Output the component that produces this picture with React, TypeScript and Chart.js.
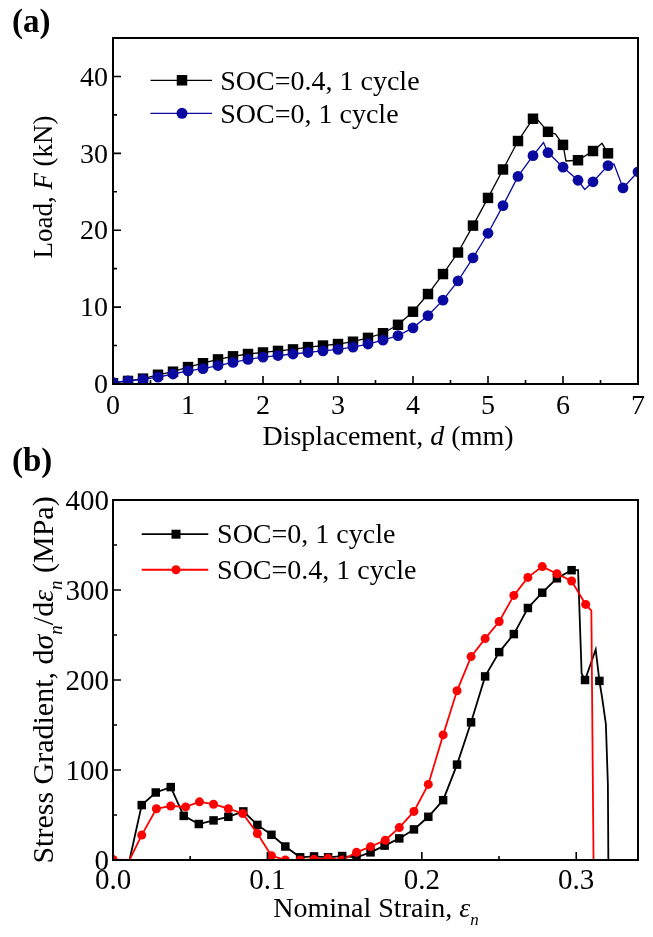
import React, { useEffect, useRef } from 'react';
import { Chart, registerables } from 'chart.js';

Chart.register(...registerables);

const FONT = "'Liberation Serif', 'Times New Roman', serif";

// ---------------- Panel (a) data ----------------
const A_X_MAJOR = [0, 1, 2, 3, 4, 5, 6, 7];
const A_X_MINOR = [0.5, 1.5, 2.5, 3.5, 4.5, 5.5, 6.5];
const A_Y_MAJOR = [0, 10, 20, 30, 40];
const A_Y_MINOR = [5, 15, 25, 35];
const A_X_LABELS = ['0', '1', '2', '3', '4', '5', '6', '7'];
const A_Y_LABELS = ['0', '10', '20', '30', '40'];

// SOC=0.4, 1 cycle (black squares)
const A_SOC04_X = [0, 0.2, 0.4, 0.6, 0.8, 1.0, 1.2, 1.4, 1.6, 1.8, 2.0, 2.2, 2.4, 2.6, 2.8, 3.0, 3.2, 3.4, 3.6, 3.8, 4.0, 4.2, 4.4, 4.6, 4.8, 5.0, 5.2, 5.4, 5.6, 5.8, 6.0, 6.2, 6.4, 6.6];
const A_SOC04_Y = [0.1, 0.4, 0.7, 1.2, 1.6, 2.2, 2.7, 3.2, 3.6, 3.9, 4.1, 4.3, 4.5, 4.8, 5.0, 5.2, 5.5, 6.0, 6.6, 7.7, 9.4, 11.7, 14.3, 17.1, 20.6, 24.2, 27.9, 31.6, 34.5, 32.8, 31.1, 29.1, 30.3, 30.0];
// extra line-only detail points of the same curve
const A_SOC04_LINE_X = [5.66, 5.9, 6.04, 6.52];
const A_SOC04_LINE_Y = [34.4, 32.5, 29.0, 31.3];

// SOC=0, 1 cycle (blue circles)
const A_SOC0_X = [0, 0.2, 0.4, 0.6, 0.8, 1.0, 1.2, 1.4, 1.6, 1.8, 2.0, 2.2, 2.4, 2.6, 2.8, 3.0, 3.2, 3.4, 3.6, 3.8, 4.0, 4.2, 4.4, 4.6, 4.8, 5.0, 5.2, 5.4, 5.6, 5.8, 6.0, 6.2, 6.4, 6.6, 6.8, 7.0];
const A_SOC0_Y = [0.2, 0.4, 0.6, 0.9, 1.3, 1.7, 2.0, 2.4, 2.8, 3.2, 3.5, 3.7, 3.9, 4.1, 4.3, 4.5, 4.8, 5.2, 5.7, 6.3, 7.3, 8.9, 10.9, 13.4, 16.4, 19.6, 23.2, 27.0, 29.7, 30.1, 28.2, 26.5, 26.3, 28.4, 25.5, 27.6];
const A_SOC0_LINE_X = [5.74, 6.29, 6.68];
const A_SOC0_LINE_Y = [31.4, 25.3, 28.6];

// ---------------- Panel (b) data ----------------
const B_X_MAJOR = [0, 0.1, 0.2, 0.3];
const B_X_MINOR = [0.05, 0.15, 0.25];
const B_Y_MAJOR = [0, 100, 200, 300, 400];
const B_Y_MINOR = [50, 150, 250, 350];
const B_X_LABELS = ['0.0', '0.1', '0.2', '0.3'];
const B_Y_LABELS = ['0', '100', '200', '300', '400'];

// SOC=0, 1 cycle (black squares)
const B_SOC0_X = [0.0186, 0.0277, 0.0374, 0.0458, 0.0556, 0.0651, 0.0747, 0.0844, 0.0935, 0.1026, 0.1116, 0.1212, 0.1302, 0.1393, 0.1484, 0.1577, 0.1668, 0.1759, 0.1854, 0.1949, 0.2042, 0.2138, 0.2228, 0.2319, 0.241, 0.2501, 0.2596, 0.2687, 0.278, 0.2875, 0.297, 0.3057, 0.315];
const B_SOC0_Y = [61, 75, 81, 49, 40, 44, 48, 54, 39, 28, 15, 3, 4, 3, 4.4, 3, 8.5, 16, 24, 34, 48, 66.5, 106, 153, 204, 231, 251, 280, 297, 313, 322, 200, 199];
const B_SOC0_LINE_X = [0, 0.0107, 0.3012, 0.3035, 0.3126, 0.3168, 0.3192, 0.3205, 0.3208];
const B_SOC0_LINE_Y = [0, 0, 322, 207, 234, 180, 151, 84, 0];

// SOC=0.4, 1 cycle (red circles)
const B_SOC04_X = [0, 0.0186, 0.0281, 0.0374, 0.047, 0.056, 0.0651, 0.0747, 0.084, 0.0935, 0.1026, 0.1116, 0.1212, 0.1302, 0.1393, 0.1484, 0.1577, 0.1668, 0.1763, 0.1854, 0.1949, 0.2042, 0.2138, 0.2228, 0.2319, 0.241, 0.2501, 0.2596, 0.2687, 0.278, 0.2875, 0.297, 0.3061];
const B_SOC04_Y = [0.5, 27.7, 57, 60, 59, 64.6, 62, 57, 51.7, 29.5, 4.8, 0, 0, 0.7, 2, 0, 8.5, 14.8, 22, 36, 54, 84, 139, 188, 226, 246, 265, 294, 314, 326, 318, 310, 284];
const B_SOC04_LINE_X = [0.0107, 0.3098, 0.3112];
const B_SOC04_LINE_Y = [0, 277, 0];

// ---------------- helpers ----------------
type Pt = { x: number; y: number };
const pts = (xs: number[], ys: number[]): Pt[] => xs.map((x, i) => ({ x, y: ys[i] }));
const curve = (xs: number[], ys: number[], ex: number[], ey: number[]): Pt[] =>
  pts(xs, ys).concat(pts(ex, ey)).sort((a, b) => a.x - b.x);

type Seg = { t: string; italic?: boolean; sub?: boolean };

function segFont(s: Seg, size: number) {
  const sz = s.sub ? Math.round(size * 0.62) : size;
  return `${s.italic ? 'italic ' : ''}${sz}px ${FONT}`;
}
function drawSegs(ctx: CanvasRenderingContext2D, segs: Seg[], cx: number, baseline: number, size: number) {
  let total = 0;
  for (const s of segs) { ctx.font = segFont(s, size); total += ctx.measureText(s.t).width; }
  let x = cx - total / 2;
  ctx.textAlign = 'left';
  ctx.textBaseline = 'alphabetic';
  for (const s of segs) {
    ctx.font = segFont(s, size);
    ctx.fillText(s.t, x, baseline + (s.sub ? size * 0.3 : 0));
    x += ctx.measureText(s.t).width;
  }
}

type LegendItem = { label: string; color: string; style: 'rect' | 'circle'; size: number; lineWidth: number };

function drawMarker(ctx: CanvasRenderingContext2D, style: 'rect' | 'circle', x: number, y: number, size: number, color: string) {
  ctx.fillStyle = color;
  ctx.beginPath();
  if (style === 'rect') {
    ctx.rect(x - size / 2, y - size / 2, size, size);
  } else {
    ctx.arc(x, y, size / 2, 0, Math.PI * 2);
  }
  ctx.fill();
}

interface Decor {
  xMajor: number[]; xMinor: number[]; yMajor: number[]; yMinor: number[];
  xLabels: string[]; yLabels: string[];
  tickFont: number;
  xLabelBaseline: number; // offset below plot bottom
  yLabelRight: number;
  xTitle: Seg[]; xTitleX: number; xTitleBaseline: number; xTitleFont: number;
  yTitle: Seg[]; yTitleX: number; yTitleY: number; yTitleFont: number;
  panel: string; panelX: number; panelY: number; panelFont: number;
  legend: LegendItem[]; legendRows: number[]; legendLine: [number, number]; legendMarker: number; legendText: number; legendFont: number;
}

function decorPlugin(d: Decor) {
  return {
    id: 'decor',
    afterDraw(chart: any) {
      const ctx: CanvasRenderingContext2D = chart.ctx;
      const { left, right, top, bottom } = chart.chartArea;
      const xs = chart.scales.x;
      const ys = chart.scales.y;
      ctx.save();
      ctx.strokeStyle = '#000';
      ctx.fillStyle = '#000';
      // ticks (inward, bottom + left)
      ctx.lineWidth = 1.6;
      ctx.beginPath();
      for (const v of d.xMajor) { const p = xs.getPixelForValue(v); ctx.moveTo(p, bottom); ctx.lineTo(p, bottom - 8); }
      for (const v of d.xMinor) { const p = xs.getPixelForValue(v); ctx.moveTo(p, bottom); ctx.lineTo(p, bottom - 4); }
      for (const v of d.yMajor) { const p = ys.getPixelForValue(v); ctx.moveTo(left, p); ctx.lineTo(left + 8, p); }
      for (const v of d.yMinor) { const p = ys.getPixelForValue(v); ctx.moveTo(left, p); ctx.lineTo(left + 4, p); }
      ctx.stroke();
      // frame
      ctx.lineWidth = 2;
      ctx.strokeRect(left, top, right - left, bottom - top);
      // tick labels
      ctx.font = `${d.tickFont}px ${FONT}`;
      ctx.textBaseline = 'alphabetic';
      ctx.textAlign = 'center';
      d.xMajor.forEach((v, i) => ctx.fillText(d.xLabels[i], xs.getPixelForValue(v), bottom + d.xLabelBaseline));
      ctx.textAlign = 'right';
      d.yMajor.forEach((v, i) => ctx.fillText(d.yLabels[i], d.yLabelRight, ys.getPixelForValue(v) + d.tickFont * 0.33));
      // x title
      drawSegs(ctx, d.xTitle, d.xTitleX, bottom + d.xTitleBaseline, d.xTitleFont);
      // y title (rotated)
      ctx.save();
      ctx.translate(d.yTitleX, d.yTitleY);
      ctx.rotate(-Math.PI / 2);
      drawSegs(ctx, d.yTitle, 0, 0, d.yTitleFont);
      ctx.restore();
      // panel label
      ctx.font = `bold ${d.panelFont}px ${FONT}`;
      ctx.textAlign = 'left';
      ctx.fillText(d.panel, d.panelX, d.panelY);
      // legend
      d.legend.forEach((it, i) => {
        const y = ys.getPixelForValue(d.legendRows[i]);
        const x1 = xs.getPixelForValue(d.legendLine[0]);
        const x2 = xs.getPixelForValue(d.legendLine[1]);
        ctx.strokeStyle = it.color;
        ctx.lineWidth = it.lineWidth;
        ctx.beginPath(); ctx.moveTo(x1, y); ctx.lineTo(x2, y); ctx.stroke();
        drawMarker(ctx, it.style, xs.getPixelForValue(d.legendMarker), y, it.size, it.color);
        ctx.fillStyle = '#000';
        ctx.font = `${d.legendFont}px ${FONT}`;
        ctx.textAlign = 'left';
        ctx.fillText(it.label, xs.getPixelForValue(d.legendText), y + d.legendFont * 0.33);
      });
      ctx.restore();
    },
  };
}

function baseScales(xMin: number, xMax: number, yMin: number, yMax: number, yWidth: number, xHeight: number) {
  return {
    x: {
      type: 'linear', min: xMin, max: xMax,
      ticks: { display: false }, grid: { display: false, drawTicks: false }, border: { display: false },
      afterFit: (s: any) => { s.height = xHeight; },
    },
    y: {
      type: 'linear', min: yMin, max: yMax,
      ticks: { display: false }, grid: { display: false, drawTicks: false }, border: { display: false },
      afterFit: (s: any) => { s.width = yWidth; },
    },
  };
}

const BLACK = '#000000';
const BLUE = '#0a0aa0';
const RED = '#ff0000';

function configA(): any {
  return {
    type: 'line',
    data: {
      datasets: [
        { data: pts(A_SOC0_X, A_SOC0_Y), showLine: false, pointStyle: 'circle', pointRadius: 5.4, pointBorderWidth: 0, pointBackgroundColor: BLUE, borderColor: BLUE, order: 0, clip: 0 },
        { data: curve(A_SOC0_X, A_SOC0_Y, A_SOC0_LINE_X, A_SOC0_LINE_Y), borderColor: BLUE, borderWidth: 1.3, pointRadius: 0, tension: 0, order: 1, clip: 0 },
        { data: pts(A_SOC04_X, A_SOC04_Y), showLine: false, pointStyle: 'rect', pointRadius: 7.4, pointBorderWidth: 0, pointBackgroundColor: BLACK, borderColor: BLACK, order: 2, clip: 0 },
        { data: curve(A_SOC04_X, A_SOC04_Y, A_SOC04_LINE_X, A_SOC04_LINE_Y), borderColor: BLACK, borderWidth: 1.3, pointRadius: 0, tension: 0, order: 3, clip: 0 },
      ],
    },
    options: {
      animation: false, responsive: false, devicePixelRatio: 1,
      layout: { padding: { top: 38, right: 15, left: 0, bottom: 0 } },
      plugins: { legend: { display: false }, tooltip: { enabled: false } },
      scales: baseScales(0, 7, 0, 45, 113, 76),
    },
    plugins: [decorPlugin({
      xMajor: A_X_MAJOR, xMinor: A_X_MINOR, yMajor: A_Y_MAJOR, yMinor: A_Y_MINOR,
      xLabels: A_X_LABELS, yLabels: A_Y_LABELS, tickFont: 28,
      xLabelBaseline: 30, yLabelRight: 108,
      xTitle: [{ t: 'Displacement, ' }, { t: 'd', italic: true }, { t: ' (mm)' }], xTitleX: 388, xTitleBaseline: 61, xTitleFont: 28,
      yTitle: [{ t: 'Load, ' }, { t: 'F', italic: true }, { t: ' (kN)' }], yTitleX: 52, yTitleY: 187, yTitleFont: 27,
      panel: '(a)', panelX: 12, panelY: 32, panelFont: 33,
      legend: [
        { label: 'SOC=0.4, 1 cycle', color: BLACK, style: 'rect', size: 10.5, lineWidth: 1.3 },
        { label: 'SOC=0, 1 cycle', color: BLUE, style: 'circle', size: 11, lineWidth: 1.3 },
      ],
      legendRows: [39.5, 35.2], legendLine: [0.5, 1.32], legendMarker: 0.92, legendText: 1.43, legendFont: 28,
    })],
  };
}

function configB(): any {
  return {
    type: 'line',
    data: {
      datasets: [
        { data: pts(B_SOC04_X, B_SOC04_Y), showLine: false, pointStyle: 'circle', pointRadius: 4.5, pointBorderWidth: 0, pointBackgroundColor: RED, borderColor: RED, order: 0, clip: 0 },
        { data: curve(B_SOC04_X, B_SOC04_Y, B_SOC04_LINE_X, B_SOC04_LINE_Y), borderColor: RED, borderWidth: 1.8, pointRadius: 0, tension: 0, order: 1, clip: 0 },
        { data: pts(B_SOC0_X, B_SOC0_Y), showLine: false, pointStyle: 'rect', pointRadius: 6.0, pointBorderWidth: 0, pointBackgroundColor: BLACK, borderColor: BLACK, order: 2, clip: 0 },
        { data: curve(B_SOC0_X, B_SOC0_Y, B_SOC0_LINE_X, B_SOC0_LINE_Y), borderColor: BLACK, borderWidth: 1.8, pointRadius: 0, tension: 0, order: 3, clip: 0 },
      ],
    },
    options: {
      animation: false, responsive: false, devicePixelRatio: 1,
      layout: { padding: { top: 60, right: 15, left: 0, bottom: 0 } },
      plugins: { legend: { display: false }, tooltip: { enabled: false } },
      scales: baseScales(0, 0.34, 0, 400, 113, 77),
    },
    plugins: [decorPlugin({
      xMajor: B_X_MAJOR, xMinor: B_X_MINOR, yMajor: B_Y_MAJOR, yMinor: B_Y_MINOR,
      xLabels: B_X_LABELS, yLabels: B_Y_LABELS, tickFont: 29,
      xLabelBaseline: 29, yLabelRight: 109,
      xTitle: [{ t: 'Nominal Strain, ' }, { t: 'ε', italic: true }, { t: 'n', italic: true, sub: true }], xTitleX: 376, xTitleBaseline: 57, xTitleFont: 28,
      yTitle: [
        { t: 'Stress Gradient, d' }, { t: 'σ', italic: true }, { t: 'n', italic: true, sub: true },
        { t: '/d' }, { t: 'ε', italic: true }, { t: 'n', italic: true, sub: true }, { t: ' (MPa)' },
      ], yTitleX: 53, yTitleY: 240, yTitleFont: 30,
      panel: '(b)', panelX: 12, panelY: 31, panelFont: 33,
      legend: [
        { label: 'SOC=0, 1 cycle', color: BLACK, style: 'rect', size: 9, lineWidth: 1.8 },
        { label: 'SOC=0.4, 1 cycle', color: RED, style: 'circle', size: 9, lineWidth: 1.8 },
      ],
      legendRows: [362, 322.5], legendLine: [0.0186, 0.0617], legendMarker: 0.0408, legendText: 0.0674, legendFont: 28,
    })],
  };
}

function ChartCanvas({ top, height, make }: { top: number; height: number; make: () => any }) {
  const ref = useRef<HTMLCanvasElement>(null);
  useEffect(() => {
    const chart = new Chart(ref.current as HTMLCanvasElement, make());
    return () => chart.destroy();
  }, []);
  return (
    <canvas
      ref={ref}
      width={653}
      height={height}
      style={{ position: 'absolute', left: 0, top, width: 653, height }}
    />
  );
}

export default function App() {
  return (
    <div style={{ position: 'absolute', left: 0, top: 0, width: 653, height: 937, background: '#ffffff', overflow: 'hidden' }}>
      <ChartCanvas top={0} height={460} make={configA} />
      <ChartCanvas top={440} height={497} make={configB} />
    </div>
  );
}
